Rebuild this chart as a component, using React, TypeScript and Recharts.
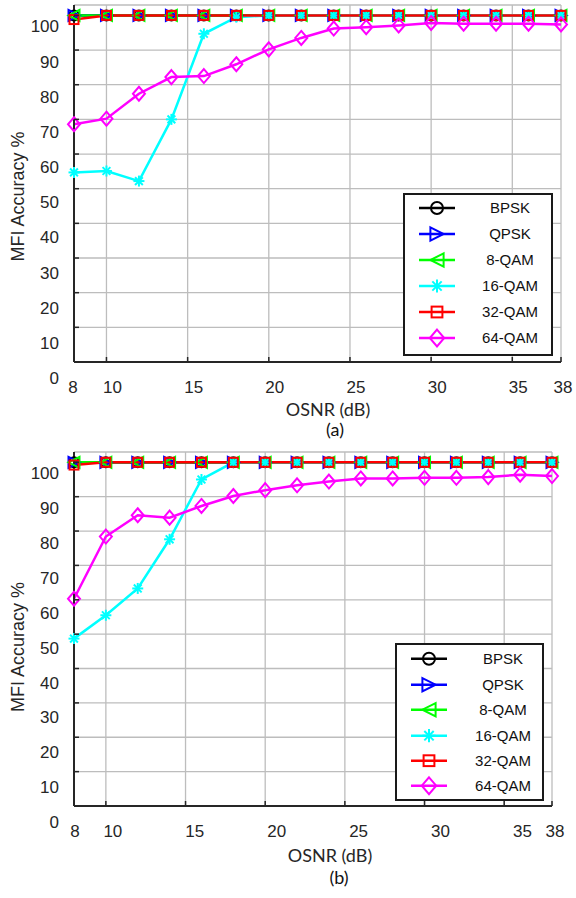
import React from 'react';
import { LineChart, Line, XAxis, YAxis, CartesianGrid, Legend, Label } from 'recharts';

const OSNR = [8, 10, 12, 14, 16, 18, 20, 22, 24, 26, 28, 30, 32, 34, 36, 38];
const X_TICKS = [8, 10, 15, 20, 25, 30, 35, 38];
const Y_TICKS = [0, 10, 20, 30, 40, 50, 60, 70, 80, 90, 100];

const NAMES = ['BPSK', 'QPSK', '8-QAM', '16-QAM', '32-QAM', '64-QAM'];
const COLORS = ['#000000', '#0000ff', '#00ff00', '#00ffff', '#ff0000', '#ff00ff'];
const MARKERS = ['circle', 'triRight', 'triLeft', 'star', 'square', 'diamond'];

// (a)
const BPSK_A = [100, 100, 100, 100, 100, 100, 100, 100, 100, 100, 100, 100, 100, 100, 100, 100];
const QPSK_A = [100, 100, 100, 100, 100, 100, 100, 100, 100, 100, 100, 100, 100, 100, 100, 100];
const QAM8_A = [100, 100, 100, 100, 100, 100, 100, 100, 100, 100, 100, 100, 100, 100, 100, 100];
const QAM16_A = [54.7, 55.1, 52.2, 70.0, 94.7, 99.5, 100, 100, 100, 100, 100, 100, 100, 100, 100, 100];
const QAM32_A = [98.8, 100, 100, 100, 100, 100, 100, 100, 100, 100, 100, 100, 100, 100, 100, 100];
const QAM64_A = [68.6, 70.2, 77.4, 82.2, 82.5, 85.9, 90.2, 93.5, 96.2, 96.6, 97.1, 97.8, 97.6, 97.6, 97.6, 97.4];

// (b)
const BPSK_B = [100, 100, 100, 100, 100, 100, 100, 100, 100, 100, 100, 100, 100, 100, 100, 100];
const QPSK_B = [100, 100, 100, 100, 100, 100, 100, 100, 100, 100, 100, 100, 100, 100, 100, 100];
const QAM8_B = [100, 100, 100, 100, 100, 100, 100, 100, 100, 100, 100, 100, 100, 100, 100, 100];
const QAM16_B = [48.7, 55.5, 63.3, 77.6, 95.0, 100, 100, 100, 100, 100, 100, 100, 100, 100, 100, 100];
const QAM32_B = [99.2, 100, 100, 100, 100, 100, 100, 100, 100, 100, 100, 100, 100, 100, 100, 100];
const QAM64_B = [60.3, 78.4, 84.6, 83.9, 87.3, 90.2, 91.9, 93.3, 94.4, 95.3, 95.3, 95.5, 95.5, 95.7, 96.4, 96.0];

const AXIS = '#262626';
const GRID = '#bdbdbd';
const SANS = '"Liberation Sans", Arial, sans-serif';

const makeRows = (cols: number[][]) =>
  OSNR.map((x, i) => {
    const r: any = { x };
    cols.forEach((c, j) => (r['s' + j] = c[i]));
    return r;
  });

const dataA = makeRows([BPSK_A, QPSK_A, QAM8_A, QAM16_A, QAM32_A, QAM64_A]);
const dataB = makeRows([BPSK_B, QPSK_B, QAM8_B, QAM16_B, QAM32_B, QAM64_B]);

function Marker({ kind, cx, cy, color, s = 1 }: any) {
  const common = { fill: 'none', stroke: color, strokeWidth: 2 };
  if (kind === 'circle') return <circle cx={cx} cy={cy} r={5 * s} {...common} />;
  if (kind === 'triRight') {
    const w = 5.5 * s;
    return <polygon points={`${cx - w},${cy - w} ${cx + w},${cy} ${cx - w},${cy + w}`} {...common} />;
  }
  if (kind === 'triLeft') {
    const w = 5.5 * s;
    return <polygon points={`${cx + w},${cy - w} ${cx - w},${cy} ${cx + w},${cy + w}`} {...common} />;
  }
  if (kind === 'star') {
    const r = 5.5 * s;
    const d = r * 0.707;
    return (
      <g stroke={color} strokeWidth={2}>
        <line x1={cx - r} y1={cy} x2={cx + r} y2={cy} />
        <line x1={cx} y1={cy - r} x2={cx} y2={cy + r} />
        <line x1={cx - d} y1={cy - d} x2={cx + d} y2={cy + d} />
        <line x1={cx - d} y1={cy + d} x2={cx + d} y2={cy - d} />
      </g>
    );
  }
  if (kind === 'square') {
    const h = 4.5 * s;
    return <rect x={cx - h} y={cy - h} width={2 * h} height={2 * h} {...common} />;
  }
  const w = 6 * s;
  const h = 7 * s;
  return <polygon points={`${cx},${cy - h} ${cx + w},${cy} ${cx},${cy + h} ${cx - w},${cy}`} {...common} />;
}

function LegendBox({ rowTop, rowH, lineLeft, textCenter }: any) {
  return (
    <div
      style={{
        position: 'relative',
        width: '100%',
        height: '100%',
        boxSizing: 'border-box',
        border: '2px solid #1a1a1a',
        background: '#fff',
      }}
    >
      {NAMES.map((n, i) => (
        <div key={n} style={{ position: 'absolute', left: 0, top: rowTop + i * rowH, width: '100%', height: rowH }}>
          <svg style={{ position: 'absolute', left: lineLeft, top: 0 }} width={36} height={rowH}>
            <line x1={0} y1={rowH / 2} x2={36} y2={rowH / 2} stroke={COLORS[i]} strokeWidth={2.5} />
            <Marker kind={MARKERS[i]} cx={18} cy={rowH / 2} color={COLORS[i]} s={1.2} />
          </svg>
          <span
            style={{
              position: 'absolute',
              left: textCenter,
              top: 0,
              transform: 'translateX(-50%)',
              lineHeight: rowH + 'px',
              fontSize: 15,
              whiteSpace: 'nowrap',
              color: '#111',
              fontFamily: SANS,
            }}
          >
            {n}
          </span>
        </div>
      ))}
    </div>
  );
}

function Panel({ data, width, height, right, xAxisH, xShift, legend, osnr, caption, yTitleDy, capText }: any) {
  const xTick = (p: any) => {
    const v = p.payload.value;
    return (
      <g>
        <line x1={p.x} y1={p.y} x2={p.x} y2={p.y - 5} stroke={AXIS} strokeWidth={1.5} />
        <text x={p.x + xShift(v)} y={p.y + 31} textAnchor="middle" fontSize={17} fill="#262626" fontFamily={SANS}>
          {v}
        </text>
      </g>
    );
  };
  const yTick = (p: any) => {
    const v = p.payload.value;
    return (
      <g>
        <line x1={p.x} y1={p.y} x2={p.x + 5} y2={p.y} stroke={AXIS} strokeWidth={1.5} />
        <text x={p.x - 15} y={p.y + 17 + (100 - v) * 0.05} textAnchor="end" fontSize={17} fill="#262626" fontFamily={SANS}>
          {v}
        </text>
      </g>
    );
  };
  const rTick = (p: any) => <line x1={p.x} y1={p.y} x2={p.x - 5} y2={p.y} stroke={AXIS} strokeWidth={1.5} />;
  const tTick = (p: any) => <line x1={p.x} y1={p.y} x2={p.x} y2={p.y + 5} stroke={AXIS} strokeWidth={1.5} />;

  return (
    <LineChart width={width} height={height} data={data} margin={{ top: 5, right, bottom: 0, left: 0 }}>
      <CartesianGrid stroke={GRID} strokeWidth={1.3} />
      <XAxis
        dataKey="x"
        type="number"
        domain={[8, 38]}
        ticks={X_TICKS}
        interval={0}
        height={xAxisH}
        tickSize={0}
        tickMargin={0}
        tickLine={false}
        axisLine={{ stroke: AXIS, strokeWidth: 2 }}
        tick={xTick}
      >
        <Label
          content={({ viewBox }: any) => (
            <text
              x={viewBox.x + viewBox.width / 2 + osnr.dx}
              y={viewBox.y + osnr.dy}
              textAnchor="middle"
              fontSize={18}
              fill="#262626"
              fontFamily="Lato, 'Open Sans', sans-serif"
            >
              OSNR (dB)
            </text>
          )}
        />
        <Label
          content={({ viewBox }: any) => (
            <text
              x={viewBox.x + viewBox.width / 2 + caption.dx}
              y={viewBox.y + caption.dy}
              textAnchor="middle"
              fontSize={18}
              fill="#111"
              fontFamily="Lato, 'Open Sans', sans-serif"
            >
              {capText}
            </text>
          )}
        />
      </XAxis>
      <XAxis
        xAxisId="top"
        orientation="top"
        type="number"
        domain={[8, 38]}
        allowDataOverflow
        ticks={X_TICKS}
        interval={0}
        height={0}
        tickSize={0}
        tickMargin={0}
        tickLine={false}
        axisLine={{ stroke: AXIS, strokeWidth: 2 }}
        tick={tTick}
      />
      <YAxis
        type="number"
        domain={[0, 103]}
        ticks={Y_TICKS}
        interval={0}
        width={74}
        tickSize={0}
        tickMargin={0}
        tickLine={false}
        axisLine={{ stroke: AXIS, strokeWidth: 2 }}
        tick={yTick}
      >
        <Label
          content={({ viewBox }: any) => {
            const cy = viewBox.y + viewBox.height / 2 + yTitleDy;
            return (
              <text
                transform={`translate(18, ${cy}) rotate(-90)`}
                textAnchor="middle"
                dominantBaseline="central"
                fontSize={18}
                fill="#262626"
                fontFamily={SANS}
              >
                MFI Accuracy %
              </text>
            );
          }}
        />
      </YAxis>
      <YAxis
        yAxisId="right"
        orientation="right"
        type="number"
        domain={[0, 103]}
        allowDataOverflow
        ticks={Y_TICKS}
        interval={0}
        width={0}
        tickSize={0}
        tickMargin={0}
        tickLine={false}
        axisLine={{ stroke: AXIS, strokeWidth: 2 }}
        tick={rTick}
      />
      {NAMES.map((n, i) => (
        <Line
          key={n}
          name={n}
          dataKey={'s' + i}
          stroke={COLORS[i]}
          strokeWidth={2.5}
          isAnimationActive={false}
          dot={(p: any) => <Marker key={`${n}-${p.index}`} kind={MARKERS[i]} cx={p.cx} cy={p.cy} color={COLORS[i]} />}
          activeDot={false}
        />
      ))}
      <Legend
        layout="horizontal"
        verticalAlign="middle"
        align="center"
        wrapperStyle={{ ...legend.box, bottom: 'auto', right: 'auto' }}
        content={() => <LegendBox {...legend.rows} />}
      />
    </LineChart>
  );
}

export default function App() {
  return (
    <div style={{ position: 'absolute', left: 0, top: 0, width: 576, height: 898, background: '#fff', overflow: 'hidden', fontFamily: SANS }}>
      <div style={{ position: 'absolute', left: 0, top: 0 }}>
        <Panel
          data={dataA}
          width={576}
          height={446}
          right={15}
          xAxisH={84}
          xShift={(v: number) => (v === 8 ? -1 : v === 38 ? 2 : 6)}
          legend={{
            box: { left: 403, top: 193, width: 150, height: 163 },
            rows: { rowTop: 0, rowH: 26, lineLeft: 14, textCenter: 105 },
          }}
          osnr={{ dx: 10.5, dy: 54 }}
          caption={{ dx: 17.5, dy: 74 }}
          capText="(a)"
          yTitleDy={13}
        />
      </div>
      <div style={{ position: 'absolute', left: 0, top: 447 }}>
        <Panel
          data={dataB}
          width={576}
          height={451}
          right={24}
          xAxisH={92}
          xShift={(v: number) => (v === 8 ? 1 : v === 38 ? 3 : 7 + (v - 10) * 0.45)}
          legend={{
            box: { left: 395, top: 196, width: 149, height: 158 },
            rows: { rowTop: 1.3, rowH: 25.4, lineLeft: 14, textCenter: 106 },
          }}
          osnr={{ dx: 17, dy: 56 }}
          caption={{ dx: 26, dy: 78 }}
          capText="(b)"
          yTitleDy={18}
        />
      </div>
    </div>
  );
}
